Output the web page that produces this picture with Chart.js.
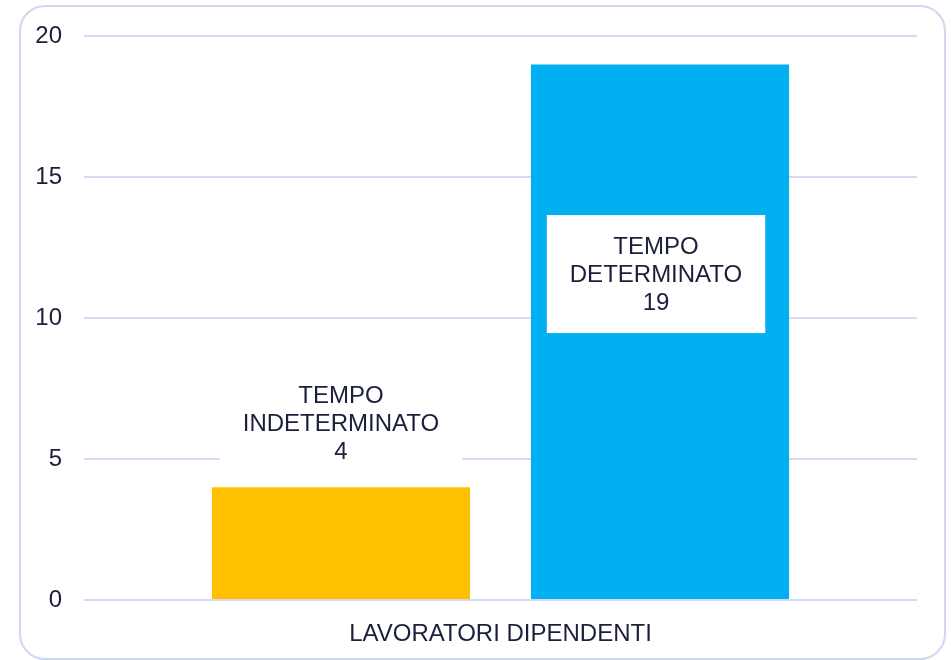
<!DOCTYPE html>
<html>
<head>
<meta charset="utf-8">
<script src="https://cdn.jsdelivr.net/npm/chart.js@4/dist/chart.umd.min.js"></script>
<style>
  html, body { margin: 0; padding: 0; background: #fff; }
  #frame {
    position: absolute; left: 19px; top: 5px;
    width: 923px; height: 651px;
    border: 2px solid #cfd7f1; border-radius: 26px;
  }
  #wrap { position: absolute; left: 0; top: 0; width: 951px; height: 660px; }
</style>
</head>
<body>
<div id="frame"></div>
<div id="wrap"><canvas id="chart"></canvas></div>
<script>
const categories = ['LAVORATORI DIPENDENTI'];
const seriesNames = ['TEMPO INDETERMINATO', 'TEMPO DETERMINATO'];
const indeterminato = [4];
const determinato = [19];
const yTicks = [0, 5, 10, 15, 20];

const textColor = '#1b1f3b';
const gridColor = '#d3daf1';
const font = { family: 'Liberation Sans, Arial, sans-serif', size: 24 };

// white boxed labels like the office data labels
const boxLabels = {
  id: 'boxLabels',
  afterDatasetsDraw(chart) {
    const ctx = chart.ctx;
    ctx.save();
    ctx.font = font.size + 'px ' + font.family;
    ctx.textAlign = 'center';
    ctx.textBaseline = 'middle';
    const lh = 28;
    chart.data.datasets.forEach((ds, i) => {
      chart.getDatasetMeta(i).data.forEach((bar, j) => {
        const words = ds.label.split(' ');
        const lines = [words[0], words.slice(1).join(' '), String(ds.data[j])];
        const w = Math.max(...lines.map(l => ctx.measureText(l).width)) + 46;
        const h = lines.length * lh + 34;
        let cx = bar.x, cy;
        if (i === 0) {
          cy = bar.y - 5 - h / 2;  // outside end
        } else {
          cx = bar.x - 4;
          cy = bar.y + (bar.base - bar.y) * 0.392;
        }
        ctx.fillStyle = '#ffffff';
        ctx.fillRect(cx - w / 2, cy - h / 2, w, h);
        ctx.fillStyle = textColor;
        lines.forEach((l, k) => {
          ctx.fillText(l, cx, cy + (k - 1) * lh + 1);
        });
      });
    });
    ctx.restore();
  }
};

new Chart(document.getElementById('chart'), {
  type: 'bar',
  data: {
    labels: categories,
    datasets: [
      { label: seriesNames[0], data: indeterminato, backgroundColor: '#ffc000' },
      { label: seriesNames[1], data: determinato, backgroundColor: '#00b0f0' }
    ]
  },
  options: {
    responsive: true,
    maintainAspectRatio: false,
    animation: false,
    categoryPercentage: 0.766,
    barPercentage: 0.809,
    layout: { padding: { left: 30, right: 34, top: 35, bottom: 0 } },
    plugins: {
      legend: { display: false },
      tooltip: { enabled: false }
    },
    scales: {
      x: {
        grid: { display: false },
        border: { display: false },
        ticks: { color: textColor, font: font, padding: 12 },
        afterFit: (s) => { s.height = 60; }
      },
      y: {
        min: 0,
        max: 20,
        afterBuildTicks: (s) => { s.ticks = yTicks.map(v => ({ value: v })); },
        grid: { color: gridColor, lineWidth: 2, drawTicks: false },
        border: { display: false },
        ticks: { color: textColor, font: font, padding: 22 },
        afterFit: (s) => { s.width = 54; }
      }
    }
  },
  plugins: [boxLabels]
});
</script>
</body>
</html>
